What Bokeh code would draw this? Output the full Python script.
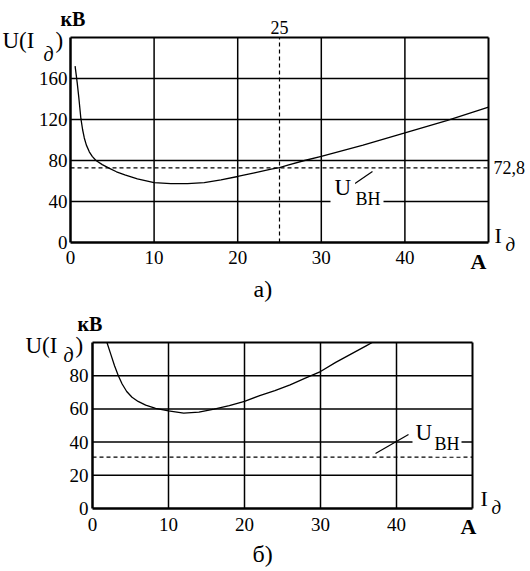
from bokeh.plotting import figure
from bokeh.models import Label, FixedTicker, Range1d
from bokeh.layouts import column
from bokeh.embed import file_html
from bokeh.resources import INLINE

# ---------------- chart а) ----------------
a_I = [0.55, 0.8, 1.0, 1.24, 1.45, 1.65, 1.9, 2.25, 2.6, 3.05, 3.8, 4.66, 5.5, 6.5,
       8, 10, 12, 14, 16, 18, 20, 22, 24, 25, 26, 28, 30, 35, 40, 45, 50]
a_U = [172, 156, 141, 121, 110, 102, 95, 88.5, 84, 80, 76, 72.3, 69, 66,
       62, 58.5, 57.5, 57.5, 58.5, 61, 64.4, 68, 71.5, 73, 75.5, 80, 84, 95, 107,
       119, 132]
a_U_vn = 72.8
a_I_mark = 25
a_xticks = [0, 10, 20, 30, 40]
a_yticks = [0, 40, 80, 120, 160]
a_xgrid = [10, 20, 30, 40]
a_ygrid = [40, 80, 120, 160]
a_xmax, a_ymax = 50, 200
a_leader_x = [33.85, 36.12]
a_leader_y = [56.6, 69.3]

# ---------------- chart б) ----------------
b_I = [1.9, 2.4, 2.9, 3.4, 3.9, 4.5, 5.2, 6, 7, 8.3, 10, 12, 14, 16, 18, 20, 22,
       24, 26, 28, 30, 32, 34, 36, 36.8]
b_U = [100, 93, 86, 80, 75, 70.5, 67, 64.5, 62.3, 60.3, 58.8, 57.5, 58, 59.8, 62,
       64.5, 68, 71, 74.5, 78.5, 82.5, 88, 93, 98, 100]
b_U_vn = 31
b_xticks = [0, 10, 20, 30, 40]
b_yticks = [0, 20, 40, 60, 80]
b_xgrid = [10, 20, 30, 40]
b_ygrid = [20, 40, 60, 80]
b_xmax, b_ymax = 50, 100
b_leader_x = [37.24, 41.58]
b_leader_y = [33.1, 44.6]

FONT = "Liberation Serif"


def make_fig(W, H, L, T, R, B, xmax, ymax, xt, yt, xg, yg, xstand, ystand):
    """Chart box (L,T,R,B) in canvas pixels; the frame spans the whole canvas."""
    sx = (R - L) / xmax
    sy = (B - T) / ymax
    p = figure(frame_width=W, frame_height=H,
               x_range=Range1d(-L / sx, xmax + (W - R) / sx),
               y_range=Range1d(-(H - B) / sy, ymax + T / sy),
               output_backend="svg", toolbar_location=None,
               min_border=0, min_border_left=0, min_border_right=0,
               min_border_top=0, min_border_bottom=0,
               background_fill_color="white", border_fill_color="white")
    p.outline_line_color = None
    p.xgrid.visible = False
    p.ygrid.visible = False
    p.xaxis.fixed_location = 0
    p.yaxis.fixed_location = 0
    p.xaxis.bounds = (0, xmax)
    p.yaxis.bounds = (0, ymax)
    p.xaxis.ticker = FixedTicker(ticks=xt)
    p.yaxis.ticker = FixedTicker(ticks=yt)
    for ax in (p.xaxis, p.yaxis):
        ax.axis_line_width = 2.5
        ax.axis_line_color = "black"
        ax.major_tick_line_color = None
        ax.minor_tick_line_color = None
        ax.major_tick_out = 0
        ax.major_tick_in = 0
        ax.minor_tick_out = 0
        ax.minor_tick_in = 0
        ax.major_label_text_font = FONT
        ax.major_label_text_font_size = "19px"
        ax.major_label_text_color = "black"
    p.xaxis.major_label_standoff = xstand
    p.yaxis.major_label_standoff = ystand
    # grid lines inside the chart box
    p.segment(x0=xg, y0=[0] * len(xg), x1=xg, y1=[ymax] * len(xg),
              line_color="black", line_width=1.5)
    p.segment(x0=[0] * len(yg), y0=yg, x1=[xmax] * len(yg), y1=yg,
              line_color="black", line_width=1.5)
    # top and right border of the chart box
    p.segment(x0=[0, xmax], y0=[ymax, 0], x1=[xmax, xmax], y1=[ymax, ymax],
              line_color="black", line_width=2)
    return p


def lab(p, text, x, y, xo, yo, size, style="normal", align="left",
        baseline="alphabetic", pad=None):
    """yo is the offset of the text baseline (or centre, if baseline='middle')."""
    if baseline == "alphabetic":
        yo = yo + 0.3375 * size
    kw = {}
    if pad is not None:
        kw = dict(background_fill_color="white", padding=pad)
    p.add_layout(Label(x=x, y=y, x_offset=xo, y_offset=yo, text=text,
                       text_font=FONT, text_font_size=f"{size}px",
                       text_font_style=style, text_align=align,
                       text_baseline="middle", text_color="black", **kw))


# ---------- figure а) ----------
p1 = make_fig(530, 308, 70, 37, 488, 242, a_xmax, a_ymax, a_xticks, a_yticks,
              a_xgrid, a_ygrid, 8, 3)
p1.segment(x0=[0], y0=[a_U_vn], x1=[a_xmax], y1=[a_U_vn], line_color="black",
           line_width=1.2, line_dash="4 3")
p1.segment(x0=[a_I_mark], y0=[0], x1=[a_I_mark], y1=[a_ymax], line_color="black",
           line_width=1.2, line_dash="4 3")
p1.line(a_I, a_U, line_color="black", line_width=1.3)
p1.line(a_leader_x, a_leader_y, line_color="black", line_width=1.2)

lab(p1, "кВ", 0, a_ymax, -10, 12, 20, "bold")
lab(p1, "U(I", 0, a_ymax, -68, -11, 23)
lab(p1, "д", 0, a_ymax, -27, -23, 20, "italic")
lab(p1, ")", 0, a_ymax, -15, -11, 23)
lab(p1, "I", a_xmax, 0, 6, 0, 22)
lab(p1, "д", a_xmax, 0, 17, -8, 19, "italic")
lab(p1, "A", a_xmax, 0, -18, -26, 22, "bold")
lab(p1, "72,8", a_xmax, a_U_vn, 5, 0, 18, baseline="middle")
lab(p1, str(a_I_mark), a_I_mark, a_ymax, 0, 4, 18, align="center")
lab(p1, "U", 0, 0, 260, 47, 23, pad=4)
lab(p1, "ВН", 0, 0, 282, 37, 18, pad=3)
lab(p1, "а)", 0, 0, 183, -55, 24)

# ---------- figure б) ----------
p2 = make_fig(530, 262, 92, 34, 472, 200, b_xmax, b_ymax, b_xticks, b_yticks,
              b_xgrid, b_ygrid, 9, 4)
p2.segment(x0=[0], y0=[b_U_vn], x1=[b_xmax], y1=[b_U_vn], line_color="black",
           line_width=1.2, line_dash="4 3")
p2.line(b_I, b_U, line_color="black", line_width=1.3)
p2.line(b_leader_x, b_leader_y, line_color="black", line_width=1.2)

lab(p2, "кВ", 0, b_ymax, -15, 12, 20, "bold")
lab(p2, "U(I", 0, b_ymax, -67, -11, 23)
lab(p2, "д", 0, b_ymax, -29, -19, 20, "italic")
lab(p2, ")", 0, b_ymax, -17, -11, 23)
lab(p2, "I", b_xmax, 0, 8, 3, 22)
lab(p2, "д", b_xmax, 0, 19, -5, 19, "italic")
lab(p2, "A", b_xmax, 0, -12, -25, 22, "bold")
lab(p2, "U", 0, 0, 320, 68, 23, pad=3)
lab(p2, "ВН", 0, 0, 340, 58, 18, pad=2)
lab(p2, "б)", 0, 0, 160, -54, 24)

layout = column(p1, p2)
open("out.html", "w").write(file_html(layout, INLINE))
